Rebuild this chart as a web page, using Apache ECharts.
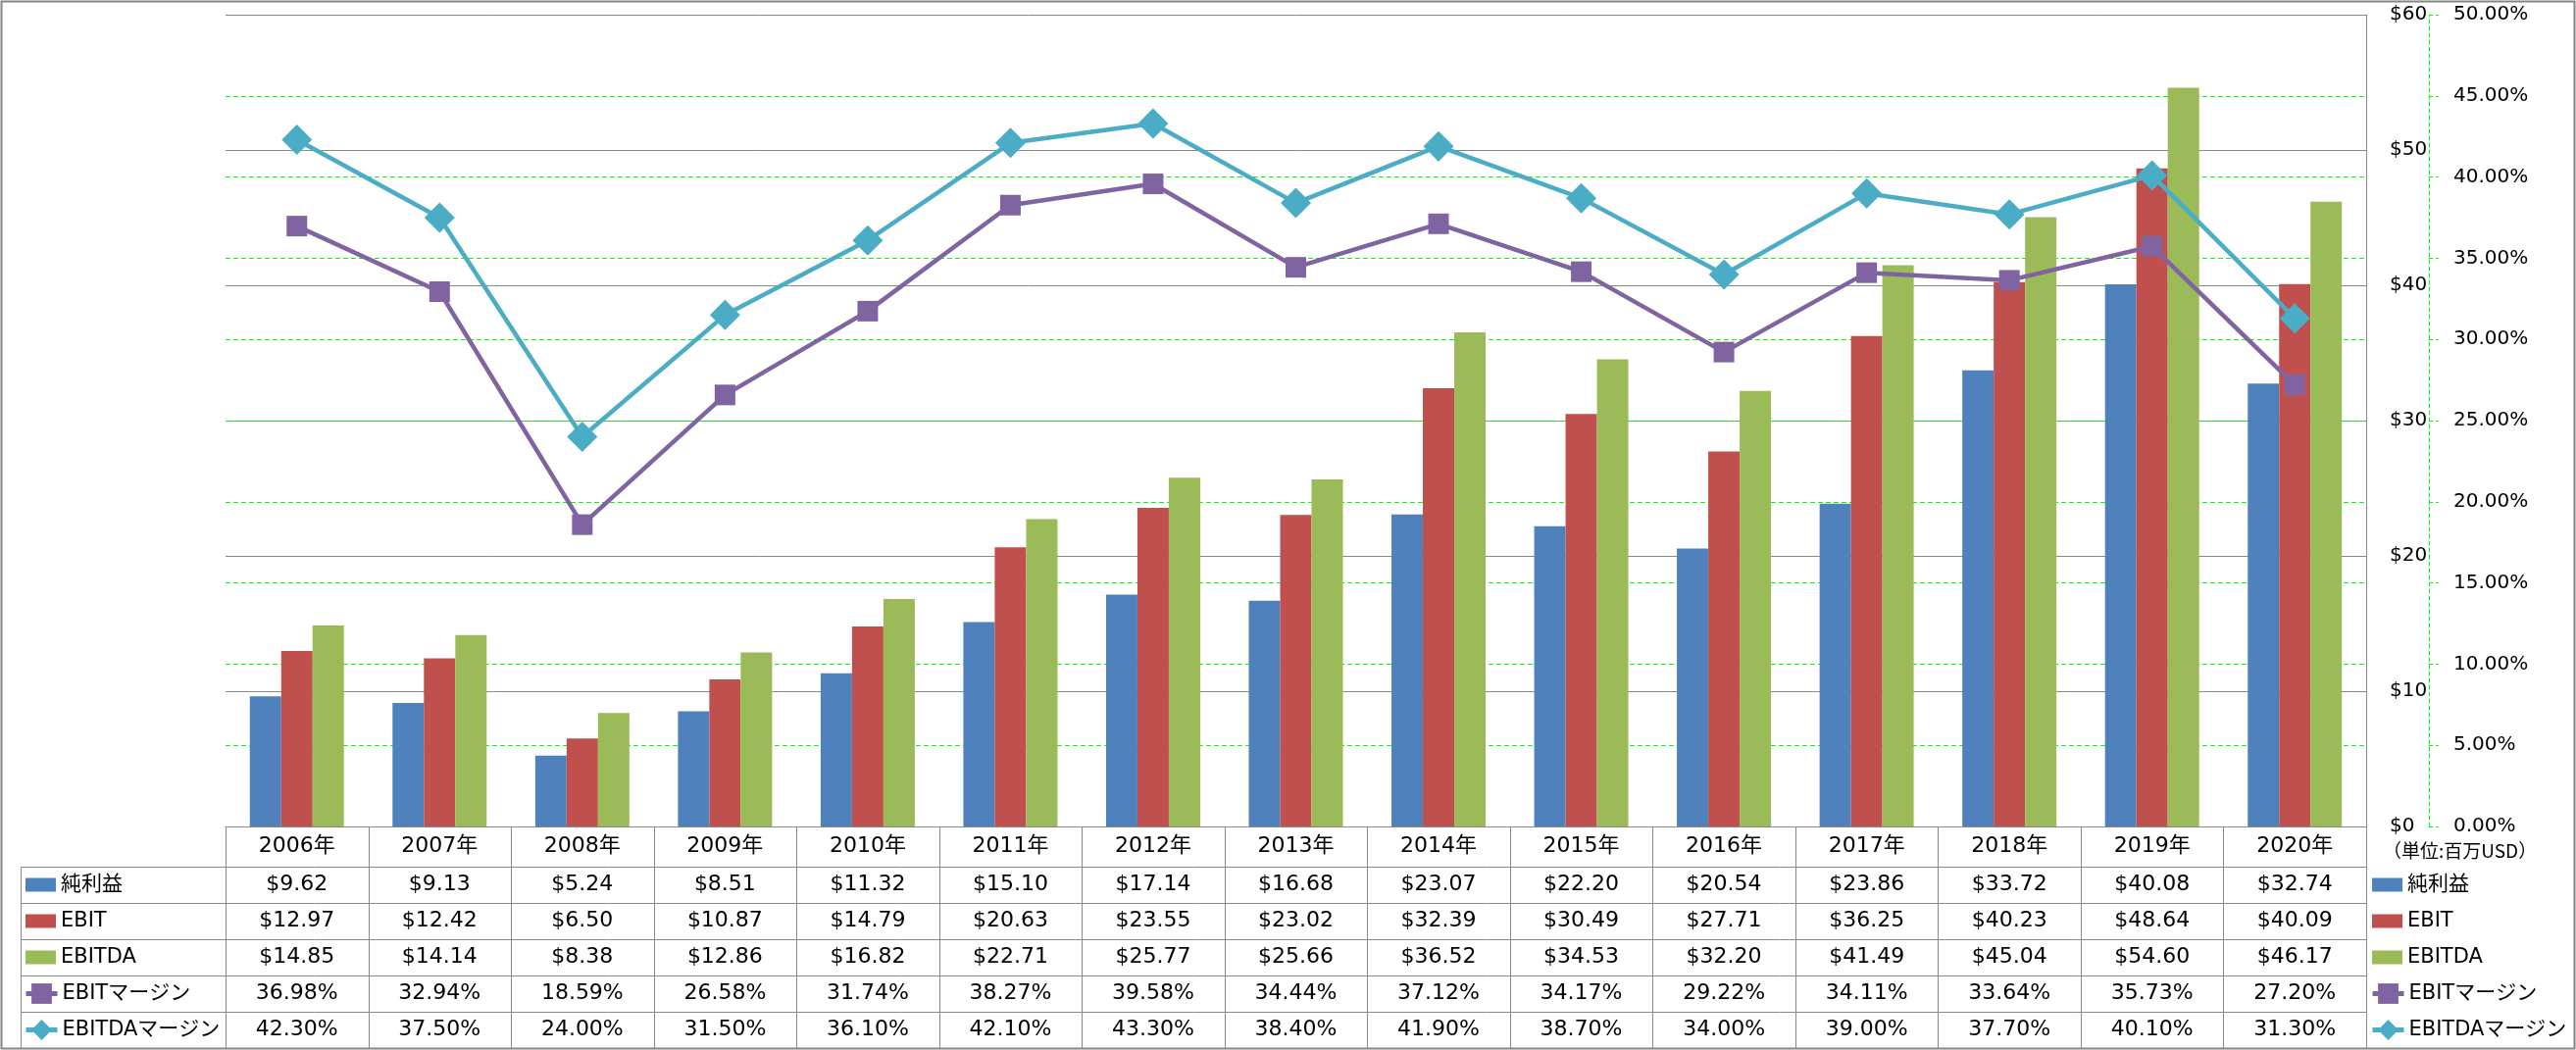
<!DOCTYPE html>
<html><head><meta charset="utf-8">
<script src="https://cdn.jsdelivr.net/npm/echarts@6/dist/echarts.min.js"></script>
<style>html,body{margin:0;padding:0;background:#fff}#c{width:2627px;height:1071px}</style>
</head><body><div id="c"></div>
<script>
// ---- data ----
const years = ['2006年','2007年','2008年','2009年','2010年','2011年','2012年','2013年','2014年','2015年','2016年','2017年','2018年','2019年','2020年'];
const netIncome = [9.62, 9.13, 5.24, 8.51, 11.32, 15.10, 17.14, 16.68, 23.07, 22.20, 20.54, 23.86, 33.72, 40.08, 32.74];
const ebit = [12.97, 12.42, 6.50, 10.87, 14.79, 20.63, 23.55, 23.02, 32.39, 30.49, 27.71, 36.25, 40.23, 48.64, 40.09];
const ebitda = [14.85, 14.14, 8.38, 12.86, 16.82, 22.71, 25.77, 25.66, 36.52, 34.53, 32.20, 41.49, 45.04, 54.60, 46.17];
const ebitMargin = [36.98, 32.94, 18.59, 26.58, 31.74, 38.27, 39.58, 34.44, 37.12, 34.17, 29.22, 34.11, 33.64, 35.73, 27.20];
const ebitdaMargin = [42.30, 37.50, 24.00, 31.50, 36.10, 42.10, 43.30, 38.40, 41.90, 38.70, 34.00, 39.00, 37.70, 40.10, 31.30];
const seriesNames = ['純利益', 'EBIT', 'EBITDA', 'EBITマージン', 'EBITDAマージン'];
const usdAxis = {min: 0, max: 60, interval: 10};
const pctAxis = {min: 0, max: 50, interval: 5};
const unitLabel = '（単位:百万USD）';

// ---- layout / style ----
const FONT = '"DejaVu Sans", "Noto Sans CJK JP", sans-serif';
const L = 230, R = 2413, T = 15, B = 843;
const headerH = 41, rowH = 37;
const tableBottom = B + headerH + rowH * 5;
const colors = ['#4F81BD', '#C0504D', '#9BBB59', '#8064A2', '#4BACC6'];
const gridGray = '#888888';
const green = '#00FF00';

const fmtUsd = v => '$' + v.toFixed(2);
const fmtPct = v => v.toFixed(2) + '%';

const tableRows = [
  {vals: years, center: B + headerH / 2},
  {vals: netIncome.map(fmtUsd)},
  {vals: ebit.map(fmtUsd)},
  {vals: ebitda.map(fmtUsd)},
  {vals: ebitMargin.map(fmtPct)},
  {vals: ebitdaMargin.map(fmtPct)}
];
for (let i = 1; i < tableRows.length; i++) tableRows[i].center = B + headerH + rowH * (i - 0.5);

const xAxes = tableRows.map((r, i) => ({
  type: 'category', gridIndex: 0, data: years, position: 'bottom', boundaryGap: true,
  axisLine: {show: i === 0, lineStyle: {color: gridGray, width: 1}},
  axisTick: {show: false}, splitLine: {show: false},
  axisLabel: {show: true, interval: 0, margin: r.center - B, verticalAlign: 'middle',
    formatter: (v, idx) => r.vals[idx], fontSize: 22, color: '#000', fontFamily: FONT}
}));

// legends (left column of table + right side), one per row
const legends = [];
seriesNames.forEach((name, i) => {
  const isLine = i >= 3;
  const cy = tableRows[i + 1].center;
  const ih = isLine ? 26 : 14;
  const base = {
    data: [isLine ? {name} : {name, icon: 'rect'}],
    orient: 'vertical', padding: 0, itemGap: 0, selectedMode: false,
    itemWidth: isLine ? 32 : 31, itemHeight: ih,
    lineStyle: {width: 5},
    textStyle: {fontSize: 21, color: '#000', fontFamily: FONT, lineHeight: 26},
    top: cy - 13
  };
  legends.push(Object.assign({}, base, {left: isLine ? 24 : 26}));
  legends.push(Object.assign({}, base, {left: isLine ? 2417 : 2419}));
});

// table border lines (decoration)
const graphics = [];
const cw = (R - L) / years.length;
const line = (x1, y1, x2, y2) => ({type: 'line', silent: true, z: 50,
  shape: {x1, y1, x2, y2}, style: {stroke: gridGray, lineWidth: 1}});
for (let i = 0; i <= years.length; i++) {
  const x = Math.round(L + i * cw) + 0.5;
  graphics.push(line(x, B, x, tableBottom));
}
for (let k = 0; k <= 5; k++) {
  const y = Math.round(B + headerH + k * rowH) + 0.5;
  graphics.push(line(21.5, y, R + 0.5, y));
}
graphics.push(line(21.5, B + headerH + 0.5, 21.5, tableBottom + 0.5));
graphics.push({type: 'rect', silent: true, z: 60,
  shape: {x: 1.5, y: 1.5, width: 2624, height: 1068},
  style: {fill: null, stroke: '#868686', lineWidth: 2}});
graphics.push({type: 'text', silent: true, left: 2430, top: 858,
  style: {text: unitLabel, font: '19px "Noto Sans CJK JP"', fill: '#000'}});

const barCommon = {type: 'bar', xAxisIndex: 0, yAxisIndex: 0, barWidth: 32, barGap: '0%', z: 2};
const option = {
  animation: false,
  backgroundColor: '#fff',
  grid: {left: L, top: T, width: R - L, height: B - T, containLabel: false, outerBoundsMode: 'none'},
  xAxis: xAxes,
  yAxis: [
    {type: 'value', position: 'right', min: usdAxis.min, max: usdAxis.max, interval: usdAxis.interval,
      axisLine: {show: true, lineStyle: {color: gridGray, width: 1}},
      axisTick: {show: false},
      splitLine: {show: true, lineStyle: {color: gridGray, width: 1}},
      axisLabel: {margin: 24, formatter: v => '$' + v, fontSize: 20, color: '#000', fontFamily: FONT}},
    {type: 'value', position: 'right', offset: 64, min: pctAxis.min, max: pctAxis.max, interval: pctAxis.interval,
      axisLine: {show: true, lineStyle: {color: green, width: 1, type: [4, 3]}},
      axisTick: {show: true, length: 10, lineStyle: {color: green, width: 1, type: [4, 3]}},
      splitLine: {show: true, showMinLine: false, showMaxLine: false, lineStyle: {color: green, width: 1, type: [5, 3]}},
      axisLabel: {margin: 25, formatter: v => v.toFixed(2) + '%', fontSize: 20, color: '#000', fontFamily: FONT}}
  ],
  legend: legends,
  graphic: graphics,
  series: [
    Object.assign({}, barCommon, {name: seriesNames[0], data: netIncome, itemStyle: {color: colors[0]}}),
    Object.assign({}, barCommon, {name: seriesNames[1], data: ebit, itemStyle: {color: colors[1]}}),
    Object.assign({}, barCommon, {name: seriesNames[2], data: ebitda, itemStyle: {color: colors[2]}}),
    {type: 'line', name: seriesNames[3], data: ebitMargin, xAxisIndex: 0, yAxisIndex: 1, z: 5,
      symbol: 'rect', symbolSize: 21, lineStyle: {color: colors[3], width: 4.5},
      itemStyle: {color: colors[3]}},
    {type: 'line', name: seriesNames[4], data: ebitdaMargin, xAxisIndex: 0, yAxisIndex: 1, z: 6,
      symbol: 'diamond', symbolSize: 31, lineStyle: {color: colors[4], width: 4.5},
      itemStyle: {color: colors[4]}}
  ]
};
const chart = echarts.init(document.getElementById('c'), null, {renderer: 'canvas'});
chart.setOption(option);
</script>
</body></html>
